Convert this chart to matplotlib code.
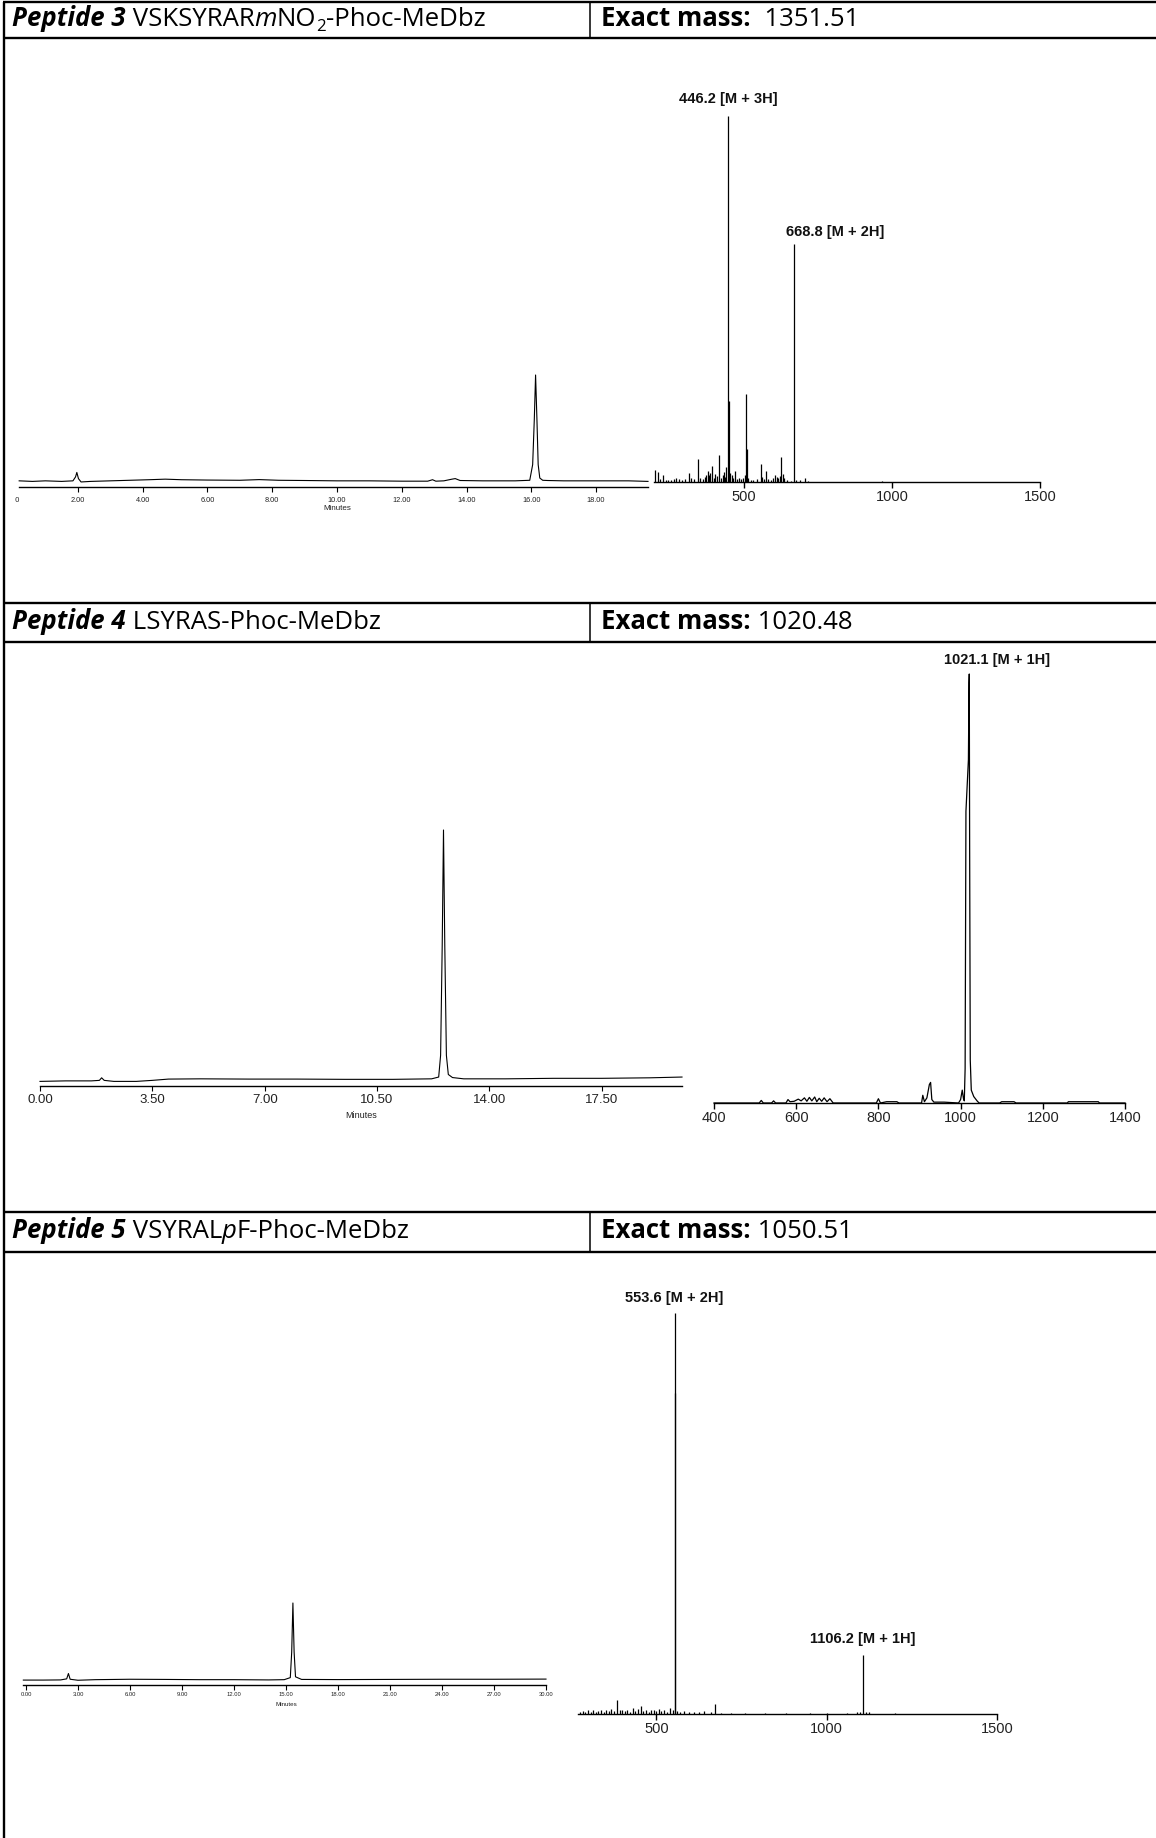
import matplotlib
matplotlib.use("Agg")
import matplotlib.pyplot as plt
from matplotlib.transforms import Bbox, TransformedBbox, IdentityTransform

W, H = 1156, 1838
DPI = 100

# ---------------- table text ----------------
peptide_titles = ["Peptide 3", "Peptide 4", "Peptide 5"]
sequence_parts = [
    [(" VSKSYRAR", "normal"), ("m", "italic"), ("NO", "normal"), ("2", "sub"), ("-Phoc-MeDbz", "normal")],
    [(" LSYRAS-Phoc-MeDbz", "normal")],
    [(" VSYRAL", "normal"), ("p", "italic"), ("F-Phoc-MeDbz", "normal")],
]
mass_values = ["  1351.51", " 1020.48", " 1050.51"]

# ---------------- HPLC traces (min, relative absorbance) ----------------
chrom1_time = [0.19, 0.6, 1.0, 1.5, 1.85, 1.93, 1.97, 2.02, 2.1, 2.4, 3.0, 3.6, 4.2, 4.7, 5.2,
               6.0, 7.0, 7.6, 8.2, 9.0, 10.0, 11.0, 12.0, 12.8, 12.95, 13.05, 13.3, 13.55, 13.65,
               13.8, 14.5, 15.5, 15.95, 16.04, 16.09, 16.13, 16.17, 16.21, 16.26, 16.35, 16.5,
               17.0, 18.0, 19.0, 19.6]
chrom1_signal = [0.055, 0.05, 0.055, 0.05, 0.055, 0.09, 0.13, 0.075, 0.045, 0.05, 0.055, 0.06,
                 0.065, 0.07, 0.065, 0.062, 0.06, 0.066, 0.06, 0.058, 0.055, 0.055, 0.052, 0.052,
                 0.065, 0.052, 0.055, 0.07, 0.075, 0.058, 0.055, 0.055, 0.06, 0.2, 0.6, 1.0,
                 0.62, 0.2, 0.08, 0.06, 0.058, 0.055, 0.055, 0.055, 0.05]
chrom1_ticks = [0, 2, 4, 6, 8, 10, 12, 14, 16, 18, 20]
chrom1_labels = ["0.00", "2.00", "4.00", "6.00", "8.00", "10.00", "12.00", "14.00", "16.00",
                 "18.00", "20.00"]

chrom2_time = [0.0, 0.8, 1.6, 1.85, 1.92, 2.0, 2.3, 3.0, 3.5, 4.0, 5.0, 6.5, 8.0, 9.5, 11.0,
               12.2, 12.42, 12.48, 12.53, 12.57, 12.61, 12.66, 12.72, 12.85, 13.2, 14.5, 16.0,
               17.5, 19.0, 20.0]
chrom2_signal = [0.018, 0.02, 0.02, 0.022, 0.032, 0.022, 0.018, 0.018, 0.022, 0.027, 0.028,
                 0.027, 0.027, 0.026, 0.026, 0.028, 0.035, 0.12, 0.55, 1.0, 0.55, 0.12, 0.045,
                 0.033, 0.028, 0.028, 0.03, 0.03, 0.032, 0.035]
chrom2_ticks = [0, 3.5, 7, 10.5, 14, 17.5]
chrom2_labels = ["0.00", "3.50", "7.00", "10.50", "14.00", "17.50"]

chrom3_time = [-0.15, 1.0, 2.0, 2.35, 2.45, 2.55, 3.0, 4.0, 6.0, 8.0, 10.0, 12.0, 14.0, 14.9,
               15.25, 15.33, 15.4, 15.47, 15.55, 15.9, 18.0, 21.0, 24.0, 27.0, 30.0]
chrom3_signal = [0.06, 0.06, 0.062, 0.075, 0.14, 0.07, 0.058, 0.065, 0.07, 0.068, 0.065, 0.065,
                 0.062, 0.065, 0.09, 0.4, 1.0, 0.4, 0.1, 0.068, 0.066, 0.068, 0.07, 0.07, 0.072]
chrom3_ticks = [0, 3, 6, 9, 12, 15, 18, 21, 24, 27, 30]
chrom3_labels = ["0.00", "3.00", "6.00", "9.00", "12.00", "15.00", "18.00", "21.00", "24.00",
                 "27.00", "30.00"]

# ---------------- ESI-MS spectra (m/z, relative intensity %) ----------------
ms1_mz = [446.2, 448.0, 668.8, 507.0, 509.0,
          198, 208, 226, 244, 272, 314, 345, 362, 377, 392, 403, 417, 432, 440, 468, 556, 574,
          605, 610, 625, 631, 706, 966,
          215, 235, 255, 262, 282, 290, 300, 320, 330, 352, 368, 372, 382, 386, 398, 410, 423,
          428, 436, 452, 458, 462, 475, 482, 490, 496, 502, 515, 522, 530, 545, 560, 566, 580,
          590, 598, 615, 620, 636, 645, 660, 676, 690, 715]
ms1_int = [100, 22, 65, 24, 9,
           3.3, 2.8, 1.8, 0.6, 1.1, 2.5, 6.2, 0.9, 3.1, 4.3, 2.2, 7.3, 2.6, 4.2, 3.1, 5.0, 2.9,
           2.0, 1.3, 6.8, 2.2, 1.1, 0.4,
           0.8, 0.6, 0.5, 0.9, 0.7, 0.5, 0.8, 1.2, 0.7, 1.0, 1.5, 2.0, 1.8, 2.5, 1.2, 1.6, 1.1,
           2.0, 1.5, 2.5, 1.8, 1.2, 0.9, 1.1, 0.8, 1.0, 2.0, 1.0, 0.6, 0.5, 0.7, 1.5, 0.9, 0.7,
           0.6, 1.2, 1.0, 1.6, 1.2, 0.6, 0.4, 0.5, 0.5, 0.4]
ms1_ticks = [500, 1000, 1500]
ms1_peak_labels = [(446.2, "446.2 [M + 3H]"), (668.8, "668.8 [M + 2H]")]

ms2_mz = [400, 510, 515, 520, 540, 545, 550, 575, 580, 585, 595, 605, 612, 620, 626, 632, 638,
          645, 650, 656, 662, 668, 675, 682, 690, 795, 800, 805, 820, 845, 850, 905, 908, 912,
          918, 924, 927, 930, 935, 960, 995, 1000, 1004, 1007, 1009, 1011, 1013, 1016, 1019,
          1020.5, 1021.1, 1022, 1023.5, 1026, 1032, 1040, 1045, 1095, 1100, 1130, 1135, 1260,
          1262, 1335, 1338, 1400]
ms2_int = [0, 0, 0.6, 0, 0, 0.5, 0, 0, 0.8, 0.3, 0.4, 0.9, 0.5, 1.2, 0.4, 1.3, 0.5,
           1.4, 0.3, 1.1, 0.4, 1.2, 0.3, 1.0, 0, 0, 1.0, 0, 0.3, 0.3, 0, 0, 1.8, 0.3,
           1.2, 4.3, 4.8, 0.8, 0.2, 0.2, 0, 0.8, 3.0, 1.0, 0.5, 8, 68, 74, 80,
           98, 100, 60, 10, 3, 1.5, 0.5, 0, 0, 0.3, 0.3, 0, 0,
           0.3, 0.3, 0, 0]
ms2_ticks = [400, 600, 800, 1000, 1200, 1400]
ms2_peak_labels = [(1021.1, "1021.1 [M + 1H]")]

ms3_mz = [553.6, 556.0, 1106.2, 385, 673, 455,
          275, 285, 292, 300, 308, 315, 322, 330, 338, 345, 352, 360, 368, 375, 392, 400, 408,
          415, 422, 430, 438, 445, 462, 470, 478, 485, 492, 500, 508, 515, 522, 530, 540, 548,
          560, 570, 580, 595, 610, 625, 640, 660, 690, 720, 760, 820, 880, 950, 1000, 1060,
          1090, 1098, 1115, 1124, 1200]
ms3_int = [100, 80, 14.7, 3.5, 2.6, 2.0,
           0.6, 0.8, 0.5, 1.0, 0.6, 0.9, 0.5, 0.7, 1.1, 0.6, 0.9, 0.7, 1.3, 0.8, 0.9, 1.1, 0.7,
           1.0, 0.6, 1.4, 0.8, 1.2, 0.7, 1.0, 0.6, 0.9, 1.1, 0.7, 1.3, 0.8, 1.0, 0.6, 1.5, 0.9,
           0.8, 0.6, 0.7, 0.5, 0.6, 0.5, 0.7, 0.4, 0.3, 0.3, 0.2, 0.2, 0.3, 0.2, 0.3, 0.3,
           0.5, 0.6, 0.6, 0.4, 0.2]
ms3_ticks = [500, 1000, 1500]
ms3_peak_labels = [(553.6, "553.6 [M + 2H]"), (1106.2, "1106.2 [M + 1H]")]

# ---------------- figure ----------------
HEAD_FONT = "Open Sans"
SANS = "Liberation Sans"
PT = 72.0 / DPI   # points per pixel

fig = plt.figure(figsize=(W / DPI, H / DPI), dpi=DPI)
fig.patch.set_facecolor("white")

bg = fig.add_axes([0, 0, 1, 1])
bg.set_xlim(0, W)
bg.set_ylim(H, 0)
bg.axis("off")


def px_axes(x0, x1, y_top, y_bot):
    ax = fig.add_axes([x0 / W, 1 - y_bot / H, (x1 - x0) / W, (y_bot - y_top) / H])
    ax.patch.set_alpha(0)
    for side in ("top", "left", "right"):
        ax.spines[side].set_visible(False)
    ax.spines["bottom"].set_linewidth(1.0)
    ax.yaxis.set_visible(False)
    return ax


# table grid
row_lines = [(2, 38), (603, 642), (1212, 1252)]
divider_x = 590
for top, bot in row_lines:
    bg.hlines([top, bot], 3, W, color="black", lw=1.7)
    bg.vlines(divider_x, top, bot, color="black", lw=1.1)
bg.vlines(4, 2, H, color="black", lw=1.7)


def rich_line(x, y, parts, size):
    base = None
    prev = None
    for s, style in parts:
        kw = dict(family=HEAD_FONT, fontsize=size, color="black")
        dy = 0
        if style == "bolditalic":
            kw.update(fontweight="bold", fontstyle="italic")
        elif style == "bold":
            kw.update(fontweight="bold")
        elif style == "italic":
            kw.update(fontstyle="italic")
        elif style == "sub":
            kw.update(fontsize=size * 0.65)
            dy = -2.0
        if base is None:
            t = bg.text(x, y, s, va="center", ha="left", **kw)
            base = t
        else:
            t = bg.annotate(s, xy=(1, 0), xycoords=(prev, base), xytext=(0, dy),
                            textcoords="offset points", va="bottom", ha="left", **kw)
        prev = t


HEAD_SIZE = 18.5
for (top, bot), title, seq, mass in zip(row_lines, peptide_titles, sequence_parts, mass_values):
    yc = (top + bot) / 2 - 1
    rich_line(12, yc, [(title, "bolditalic")] + seq, HEAD_SIZE)
    rich_line(601, yc, [("Exact mass:", "bold"), (mass, "normal")], HEAD_SIZE)


def chromatogram(ax, t, s, ticks, labels, xlim, tick_size, lab_dy, min_size, min_dy, min_x,
                 clip_left=3, clip_right=3):
    ax.plot(t, s, color="black", lw=0.8, clip_on=False)
    ax.set_xlim(*xlim)
    ax.set_ylim(0, 1.0)
    ax.set_xticks([v for v in ticks if xlim[0] <= v <= xlim[1]])
    ax.tick_params(axis="x", direction="out", length=3.5, width=0.8, labelbottom=False,
                   color="black")
    fig.canvas.draw()
    bb = ax.get_window_extent()
    clip = TransformedBbox(Bbox.from_extents(bb.x0 - clip_left, bb.y0 - 80,
                                             bb.x1 + clip_right, bb.y1),
                           IdentityTransform())
    for v, lab in zip(ticks, labels):
        txt = ax.annotate(lab, xy=(v, 0), xycoords=("data", "axes fraction"),
                          xytext=(0, -lab_dy * PT), textcoords="offset points",
                          ha="center", va="center", fontsize=tick_size, family=SANS,
                          color="#222222", annotation_clip=False)
        txt.set_clip_on(True)
        txt.set_clip_box(clip)
    ax.annotate("Minutes", xy=(min_x, 0), xycoords=("data", "axes fraction"),
                xytext=(0, -min_dy * PT), textcoords="offset points", ha="center",
                va="center", fontsize=min_size, family=SANS, color="#222222",
                annotation_clip=False)


def spectrum(ax, mz, inten, ticks, xlim, peak_labels, label_offsets, stems=True):
    if stems:
        ax.vlines(mz, 0, inten, color="black", lw=0.9, clip_on=False)
    else:
        ax.plot(mz, inten, color="black", lw=0.9, clip_on=False)
    ax.set_xlim(*xlim)
    ax.set_ylim(0, 100)
    ax.set_xticks(ticks)
    ax.set_xticklabels([str(v) for v in ticks], family=SANS, fontsize=10.5, color="#222222")
    ax.tick_params(axis="x", direction="out", length=4, width=1.0, pad=1.5)
    lookup = dict(zip(mz, inten))
    for (m, text), (dx, dy) in zip(peak_labels, label_offsets):
        ax.annotate(text, xy=(m, lookup[m]), xytext=(dx * PT, dy * PT),
                    textcoords="offset points", ha="center", va="center",
                    fontsize=10.5, fontweight="bold", family=SANS, color="#111111",
                    annotation_clip=False)


# Peptide 3
c1 = px_axes(19, 648, 375, 487)
chromatogram(c1, chrom1_time, chrom1_signal, chrom1_ticks, chrom1_labels, (0.185, 19.6),
             5.3, 14, 5.8, 22, 10, clip_left=4, clip_right=4)
m1 = px_axes(654, 1040, 116, 482)
spectrum(m1, ms1_mz, ms1_int, ms1_ticks, (196, 1500), ms1_peak_labels, [(0, 17), (41, 12)])

# Peptide 4
c2 = px_axes(40, 682, 830, 1086)
chromatogram(c2, chrom2_time, chrom2_signal, chrom2_ticks, chrom2_labels, (0, 20),
             9.5, 14, 6.5, 30, 10, clip_left=40, clip_right=40)
m2 = px_axes(714, 1125, 674, 1103)
spectrum(m2, ms2_mz, ms2_int, ms2_ticks, (400, 1400), ms2_peak_labels, [(28, 14)], stems=False)

# Peptide 5
c3 = px_axes(23, 546, 1603, 1685)
chromatogram(c3, chrom3_time, chrom3_signal, chrom3_ticks, chrom3_labels, (-0.17, 30.0),
             4.2, 9, 4.5, 19, 15, clip_left=30, clip_right=30)
m3 = px_axes(578, 997, 1313, 1714)
spectrum(m3, ms3_mz, ms3_int, ms3_ticks, (270, 1500), ms3_peak_labels, [(0, 15), (0, 16)])

fig.savefig("out.png", dpi=DPI, facecolor="white")
